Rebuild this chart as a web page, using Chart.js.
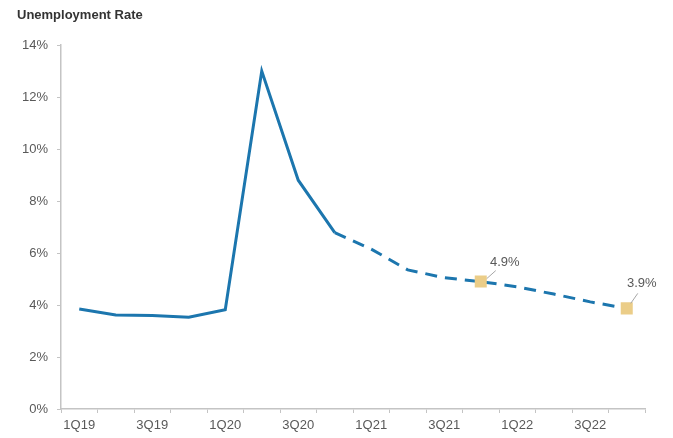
<!DOCTYPE html>
<html>
<head>
<meta charset="utf-8">
<script src="https://cdn.jsdelivr.net/npm/chart.js@4"></script>
<style>
  html, body { margin: 0; padding: 0; background: #fff; }
  #wrap { width: 673px; height: 438px; position: relative; }
</style>
</head>
<body>
<div id="wrap"><canvas id="unemploymentChart"></canvas></div>
<script>
const quarters = ['1Q19', '2Q19', '3Q19', '4Q19', '1Q20', '2Q20', '3Q20', '4Q20',
                  '1Q21', '2Q21', '3Q21', '4Q21', '1Q22', '2Q22', '3Q22', '4Q22'];
const rates = [3.85, 3.62, 3.6, 3.53, 3.82, 13.0, 8.8, 6.78,
               6.15, 5.35, 5.05, 4.9, 4.7, 4.42, 4.12, 3.87];
const lastActual = 7;               // 4Q20, dashed from here on
const calloutIndex = [11, 15];
const calloutText = ['4.9%', '3.9%'];
const yTicks = [0, 2, 4, 6, 8, 10, 12, 14];

const blue = '#1c76ae';
const gold = '#ebcd88';
const axisGrey = '#c4c4c4';
const textGrey = '#595959';
const font = "'Liberation Sans', Arial, sans-serif";

// label offsets from the marker: [dx, dy] of the text, leader start/end
const calloutStyle = [
  { dx: 24, dy: -19, lx0: 6, ly0: -3, lx1: 15, ly1: -11 },
  { dx: 15, dy: -25, lx0: 4, ly0: -5, lx1: 11, ly1: -15 }
];

const titlePlugin = {
  id: 'titleText',
  afterDraw(chart) {
    const ctx = chart.ctx;
    ctx.save();
    ctx.fillStyle = '#333333';
    ctx.font = "bold 13px " + font;
    ctx.textBaseline = 'middle';
    ctx.fillText('Unemployment Rate', 17, 15);
    ctx.restore();
  }
};

const calloutPlugin = {
  id: 'callouts',
  afterDatasetsDraw(chart) {
    const ctx = chart.ctx;
    const meta = chart.getDatasetMeta(0);
    ctx.save();
    calloutIndex.forEach((idx, k) => {
      const pt = meta.data[idx];
      const s = calloutStyle[k];
      ctx.strokeStyle = '#a6a6a6';
      ctx.lineWidth = 1;
      ctx.beginPath();
      ctx.moveTo(pt.x + s.lx0, pt.y + s.ly0);
      ctx.lineTo(pt.x + s.lx1, pt.y + s.ly1);
      ctx.stroke();
      ctx.fillStyle = textGrey;
      ctx.font = "13px " + font;
      ctx.textAlign = 'center';
      ctx.textBaseline = 'middle';
      ctx.fillText(calloutText[k], pt.x + s.dx, pt.y + s.dy);
    });
    ctx.restore();
  }
};

new Chart(document.getElementById('unemploymentChart'), {
  type: 'line',
  data: {
    labels: quarters,
    datasets: [{
      data: rates,
      borderColor: blue,
      borderWidth: 3,
      tension: 0,
      segment: {
        borderDash: c => c.p0DataIndex >= lastActual ? [12, 8] : undefined
      },
      pointStyle: 'rect',
      pointRadius: c => calloutIndex.includes(c.dataIndex) ? 8.5 : 0,
      pointBackgroundColor: gold,
      pointBorderColor: gold,
      pointBorderWidth: 0
    }]
  },
  options: {
    responsive: true,
    maintainAspectRatio: false,
    animation: false,
    layout: { padding: { top: 45, left: 14, right: 28, bottom: 1 } },
    plugins: {
      legend: { display: false },
      tooltip: { enabled: false }
    },
    scales: {
      x: {
        offset: true,
        grid: {
          offset: true,
          drawOnChartArea: false,
          color: axisGrey,
          tickLength: 4
        },
        border: { color: axisGrey, width: 1.5 },
        ticks: {
          autoSkip: false,
          maxRotation: 0,
          color: textGrey,
          font: { family: font, size: 13 },
          padding: 5,
          callback: (v, i) => i % 2 === 0 ? quarters[i] : ''
        },
        afterFit: s => { s.height = 28; }
      },
      y: {
        min: 0,
        max: 14,
        afterBuildTicks: s => { s.ticks = yTicks.map(v => ({ value: v })); },
        grid: {
          drawOnChartArea: false,
          color: axisGrey,
          tickLength: 4
        },
        border: { color: axisGrey, width: 1.5 },
        ticks: {
          color: textGrey,
          font: { family: font, size: 13 },
          padding: 9,
          callback: v => v + '%'
        },
        afterFit: s => { s.width = 47; }
      }
    }
  },
  plugins: [titlePlugin, calloutPlugin]
});
</script>
</body>
</html>
